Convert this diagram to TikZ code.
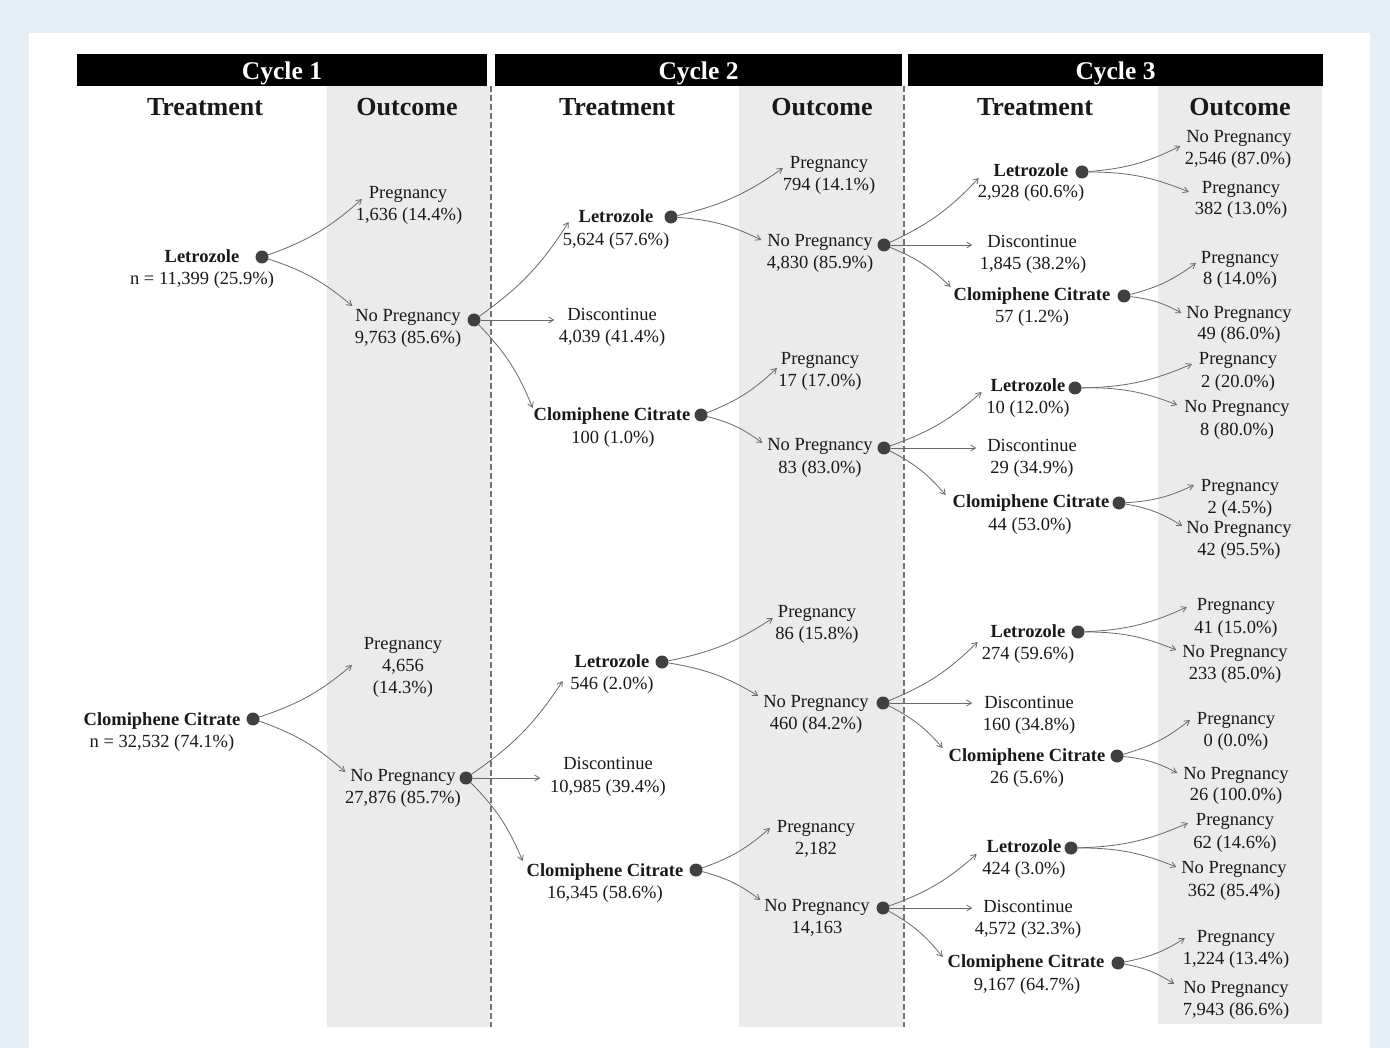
\documentclass[tikz,border=0pt]{standalone}
\usepackage{fontspec}
\setmainfont{Liberation Serif}
\usetikzlibrary{arrows.meta,calc}
\definecolor{bgblue}{RGB}{230,238,248}
\definecolor{colgrey}{RGB}{235,235,235}
\definecolor{arrc}{RGB}{105,105,105}
\definecolor{dotc}{RGB}{64,64,64}
\definecolor{dashc}{RGB}{115,115,115}
\definecolor{txtc}{RGB}{25,25,25}
\newcommand\mytfont{\fontsize{18.5}{22}\selectfont}
\newcommand\myhfont{\fontsize{26}{30}\selectfont\bfseries}
\newcommand\mybfont{\fontsize{25.5}{30}\selectfont\bfseries}
\begin{document}
\begin{tikzpicture}[x=1pt,y=-1pt,
  txt/.style={font=\mytfont, text=txtc, inner xsep=2pt, inner ysep=0pt, text height=13pt, text depth=4pt, anchor=base, outer sep=0pt},
  btxt/.style={txt, font=\mytfont\bfseries},
  head/.style={font=\myhfont, text=txtc, inner sep=0pt, anchor=base},
  bar/.style={fill=black, text=white, font=\mybfont, minimum height=32pt, inner sep=0pt, text height=20pt, text depth=0pt},
  dotn/.style={circle, fill=dotc, inner sep=0pt, minimum size=13pt, outer sep=0pt},
  arr/.style={draw=arrc, line width=0.8pt, -{Straight Barb[length=5pt,width=6pt]}},
  upc/.style={bend right=11},
  dnc/.style={bend left=11},
  sep/.style={draw=dashc, line width=1.2pt, dash pattern=on 6pt off 3pt}
]
\useasboundingbox (0,0) rectangle (1390,1048);
\fill[bgblue] (0,0) rectangle (1390,1048);
\fill[white] (29,33) rectangle (1370,1048);
\fill[colgrey] (327,86) rectangle (490,1027);
\fill[colgrey] (739,86) rectangle (903,1027);
\fill[colgrey] (1158,86) rectangle (1322,1024);
\draw[sep] (491,86) -- (491,1027);
\draw[sep] (904,86) -- (904,1027);

% cycle bars
\node[bar, minimum width=410pt] (cyc1) at (282,70) {Cycle 1};
\node[bar, minimum width=407pt] (cyc2) at (698.5,70) {Cycle 2};
\node[bar, minimum width=415pt] (cyc3) at (1115.5,70) {Cycle 3};
% headers
\node[head] (h1t) at (205,116) {Treatment};
\node[head] (h1o) at (407,116) {Outcome};
\node[head] (h2t) at (617,116) {Treatment};
\node[head] (h2o) at (822,116) {Outcome};
\node[head] (h3t) at (1035,116) {Treatment};
\node[head] (h3o) at (1240,116) {Outcome};

% ---------------- Cycle 1 ----------------
\node[btxt] (c1l) at (202,263) {Letrozole};
\node[txt] (c1l2) at (202,285) {n = 11,399 (25.9\%)};
\node[dotn] (c1ld) at (262,257) {};
\node[txt] (c1lp) at (408,199) {Pregnancy};
\node[txt] (c1lp2) at (409,221) {1,636 (14.4\%)};
\node[txt] (c1lnp) at (408,322) {No Pregnancy};
\node[txt] (c1lnp2) at (408,344) {9,763 (85.6\%)};
\node[dotn] (c1lnpd) at (474,320) {};

\node[btxt] (c1c) at (162,725) {Clomiphene Citrate};
\node[txt] (c1c2) at (162,747) {n = 32,532 (74.1\%)};
\node[dotn] (c1cd) at (253,719) {};
\node[txt] (c1cp) at (403,649) {Pregnancy};
\node[txt] (c1cp2) at (403,671) {4,656};
\node[txt] (c1cp3) at (403,693) {(14.3\%)};
\node[txt] (c1cnp) at (403,781) {No Pregnancy};
\node[txt] (c1cnp2) at (403,803) {27,876 (85.7\%)};
\node[dotn] (c1cnpd) at (466,778) {};

% ---------------- Cycle 2 upper ----------------
\node[btxt] (c2l) at (616,223) {Letrozole};
\node[txt] (c2l2) at (616,246) {5,624 (57.6\%)};
\node[dotn] (c2ld) at (671,217) {};
\node[txt] (c2d) at (612,321) {Discontinue};
\node[txt] (c2d2) at (612,343) {4,039 (41.4\%)};
\node[btxt] (c2c) at (612,421) {Clomiphene Citrate};
\node[txt] (c2c2) at (613,443) {100 (1.0\%)};
\node[dotn] (c2cd) at (701,415) {};
\node[txt] (c2lp) at (829,169) {Pregnancy};
\node[txt] (c2lp2) at (829,191) {794 (14.1\%)};
\node[txt] (c2lnp) at (820,247) {No Pregnancy};
\node[txt] (c2lnp2) at (820,269) {4,830 (85.9\%)};
\node[dotn] (c2lnpd) at (884,245) {};
\node[txt] (c2cp) at (820,365) {Pregnancy};
\node[txt] (c2cp2) at (820,387) {17 (17.0\%)};
\node[txt] (c2cnp) at (820,451) {No Pregnancy};
\node[txt] (c2cnp2) at (820,473) {83 (83.0\%)};
\node[dotn] (c2cnpd) at (884,448) {};

% ---------------- Cycle 2 lower ----------------
\node[btxt] (c2Ll) at (612,667) {Letrozole};
\node[txt] (c2Ll2) at (612,689) {546 (2.0\%)};
\node[dotn] (c2Lld) at (662,662) {};
\node[txt] (c2Ld) at (608,769) {Discontinue};
\node[txt] (c2Ld2) at (608,792) {10,985 (39.4\%)};
\node[btxt] (c2Lc) at (605,876) {Clomiphene Citrate};
\node[txt] (c2Lc2) at (605,898) {16,345 (58.6\%)};
\node[dotn] (c2Lcd) at (696,870) {};
\node[txt] (c2Llp) at (817,617) {Pregnancy};
\node[txt] (c2Llp2) at (817,639) {86 (15.8\%)};
\node[txt] (c2Llnp) at (816,707) {No Pregnancy};
\node[txt] (c2Llnp2) at (816,729) {460 (84.2\%)};
\node[dotn] (c2Llnpd) at (883,703) {};
\node[txt] (c2Lcp) at (816,832) {Pregnancy};
\node[txt] (c2Lcp2) at (816,854) {2,182};
\node[txt] (c2Lcnp) at (817,911) {No Pregnancy};
\node[txt] (c2Lcnp2) at (817,933) {14,163};
\node[dotn] (c2Lcnpd) at (883,908) {};

% ---------------- Cycle 3 group A ----------------
\node[btxt] (c3al) at (1031,177) {Letrozole};
\node[txt] (c3al2) at (1031,198) {2,928 (60.6\%)};
\node[dotn] (c3ald) at (1082,172) {};
\node[txt] (c3ad) at (1032,248) {Discontinue};
\node[txt] (c3ad2) at (1033,270) {1,845 (38.2\%)};
\node[btxt] (c3ac) at (1032,301) {Clomiphene Citrate};
\node[txt] (c3ac2) at (1032,323) {57 (1.2\%)};
\node[dotn] (c3acd) at (1124,296) {};
\node[txt] (c3alnp) at (1239,143) {No Pregnancy};
\node[txt] (c3alnp2) at (1238,165) {2,546 (87.0\%)};
\node[txt] (c3alp) at (1241,194) {Pregnancy};
\node[txt] (c3alp2) at (1241,215) {382 (13.0\%)};
\node[txt] (c3acp) at (1240,264) {Pregnancy};
\node[txt] (c3acp2) at (1240,285) {8 (14.0\%)};
\node[txt] (c3acnp) at (1239,319) {No Pregnancy};
\node[txt] (c3acnp2) at (1239,340) {49 (86.0\%)};

% ---------------- Cycle 3 group B ----------------
\node[btxt] (c3bl) at (1028,392) {Letrozole};
\node[txt] (c3bl2) at (1028,414) {10 (12.0\%)};
\node[dotn] (c3bld) at (1075,388) {};
\node[txt] (c3bd) at (1032,452) {Discontinue};
\node[txt] (c3bd2) at (1032,474) {29 (34.9\%)};
\node[btxt] (c3bc) at (1031,507) {Clomiphene Citrate};
\node[txt] (c3bc2) at (1030,530) {44 (53.0\%)};
\node[dotn] (c3bcd) at (1119,503) {};
\node[txt] (c3blp) at (1238,365) {Pregnancy};
\node[txt] (c3blp2) at (1238,388) {2 (20.0\%)};
\node[txt] (c3blnp) at (1237,413) {No Pregnancy};
\node[txt] (c3blnp2) at (1237,436) {8 (80.0\%)};
\node[txt] (c3bcp) at (1240,491) {Pregnancy};
\node[txt] (c3bcp2) at (1240,513) {2 (4.5\%)};
\node[txt] (c3bcnp) at (1239,533) {No Pregnancy};
\node[txt] (c3bcnp2) at (1239,555) {42 (95.5\%)};

% ---------------- Cycle 3 group C ----------------
\node[btxt] (c3cl) at (1028,637) {Letrozole};
\node[txt] (c3cl2) at (1028,659) {274 (59.6\%)};
\node[dotn] (c3cld) at (1078,632) {};
\node[txt] (c3cd) at (1029,708) {Discontinue};
\node[txt] (c3cd2) at (1029,730) {160 (34.8\%)};
\node[btxt] (c3cc) at (1027,761) {Clomiphene Citrate};
\node[txt] (c3cc2) at (1027,783) {26 (5.6\%)};
\node[dotn] (c3ccd) at (1117,756) {};
\node[txt] (c3clp) at (1236,610) {Pregnancy};
\node[txt] (c3clp2) at (1236,633) {41 (15.0\%)};
\node[txt] (c3clnp) at (1235,657) {No Pregnancy};
\node[txt] (c3clnp2) at (1235,679) {233 (85.0\%)};
\node[txt] (c3ccp) at (1236,724) {Pregnancy};
\node[txt] (c3ccp2) at (1236,746) {0 (0.0\%)};
\node[txt] (c3ccnp) at (1236,779) {No Pregnancy};
\node[txt] (c3ccnp2) at (1236,800) {26 (100.0\%)};

% ---------------- Cycle 3 group D ----------------
\node[btxt] (c3dl) at (1024,852) {Letrozole};
\node[txt] (c3dl2) at (1024,874) {424 (3.0\%)};
\node[dotn] (c3dld) at (1071,848) {};
\node[txt] (c3dd) at (1028,912) {Discontinue};
\node[txt] (c3dd2) at (1028,934) {4,572 (32.3\%)};
\node[btxt] (c3dc) at (1026,967) {Clomiphene Citrate};
\node[txt] (c3dc2) at (1027,990) {9,167 (64.7\%)};
\node[dotn] (c3dcd) at (1118,963) {};
\node[txt] (c3dlp) at (1235,825) {Pregnancy};
\node[txt] (c3dlp2) at (1235,848) {62 (14.6\%)};
\node[txt] (c3dlnp) at (1234,873) {No Pregnancy};
\node[txt] (c3dlnp2) at (1234,896) {362 (85.4\%)};
\node[txt] (c3dcp) at (1236,942) {Pregnancy};
\node[txt] (c3dcp2) at (1236,964) {1,224 (13.4\%)};
\node[txt] (c3dcnp) at (1236,993) {No Pregnancy};
\node[txt] (c3dcnp2) at (1236,1015) {7,943 (86.6\%)};

% ---------------- connectors ----------------
\draw[arr] (c1ld) to[upc] ([shift={(-5,4.5)}]c1lp.west);
\draw[arr] (c1ld) to[dnc] ([shift={(-1,-11.5)}]c1lnp.west);
\draw[arr] (c1cd) to[upc] ([shift={(-10,20.5)}]c1cp.west);
\draw[arr] (c1cd) to[dnc] ([shift={(-3,-4.5)}]c1cnp.west);

\draw[arr] (c1lnpd) to[upc] ([shift={(-8,3.5)}]c2l.west);
\draw[arr] (c1lnpd) -- ($(c1lnpd -| c2d.west)+(-11,0)$);
\draw[arr] (c1lnpd) to[dnc] ([shift={(1,-8.5)}]c2c.west);
\draw[arr] (c2ld) to[upc] ([shift={(-5,3.5)}]c2lp.west);
\draw[arr] (c2ld) to[dnc] ([shift={(-4,-2.5)}]c2lnp.west);
\draw[arr] (c2cd) to[upc] ([shift={(-2,7.5)}]c2cp.west);
\draw[arr] (c2cd) to[dnc] ([shift={(-3,-3.5)}]c2cnp.west);

\draw[arr] (c1cnpd) to[upc] ([shift={(-10,18.5)}]c2Ll.west);
\draw[arr] (c1cnpd) -- ($(c1cnpd -| c2Ld.west)+(-21,0)$);
\draw[arr] (c1cnpd) to[dnc] ([shift={(-2,-10.5)}]c2Lc.west);
\draw[arr] (c2Lld) to[upc] ([shift={(-3,5.5)}]c2Llp.west);
\draw[arr] (c2Lld) to[dnc] ([shift={(-3,-6.5)}]c2Llnp.west);
\draw[arr] (c2Lcd) to[upc] ([shift={(-5,0.5)}]c2Lcp.west);
\draw[arr] (c2Lcd) to[dnc] ([shift={(-2,-6.5)}]c2Lcnp.west);

\draw[arr] (c2lnpd) to[upc] ([shift={(-13,5.5)}]c3al.west);
\draw[arr] (c2lnpd) -- ($(c2lnpd -| c3ad.west)+(-13,0)$);
\draw[arr] (c2lnpd) to[dnc] ([shift={(-1,-9.5)}]c3ac.west);
\draw[arr] (c3ald) to[upc] ([shift={(-4,7.5)}]c3alnp.west);
\draw[arr] (c3ald) to[dnc] ([shift={(-11,2.5)}]c3alp.west);
\draw[arr] (c3acd) to[upc] ([shift={(-3,3.5)}]c3acp.west);
\draw[arr] (c3acd) to[dnc] ([shift={(-3,-1.5)}]c3acnp.west);

\draw[arr] (c2cnpd) to[upc] ([shift={(-7,4.5)}]c3bl.west);
\draw[arr] (c2cnpd) -- ($(c2cnpd -| c3bd.west)+(-9,0)$);
\draw[arr] (c2cnpd) to[dnc] ([shift={(-5,-7.5)}]c3bc.west);
\draw[arr] (c3bld) to[upc] ([shift={(-5,3.5)}]c3blp.west);
\draw[arr] (c3bld) to[dnc] ([shift={(-5,-3.5)}]c3blnp.west);
\draw[arr] (c3bcd) to[upc] ([shift={(-5,-1.5)}]c3bcp.west);
\draw[arr] (c3bcd) to[dnc] ([shift={(-2,-2.5)}]c3bcnp.west);

\draw[arr] (c2Llnpd) to[upc] ([shift={(-11,9.5)}]c3cl.west);
\draw[arr] (c2Llnpd) -- ($(c2Llnpd -| c3cd.west)+(-10,0)$);
\draw[arr] (c2Llnpd) to[dnc] ([shift={(-4,-8.5)}]c3cc.west);
\draw[arr] (c3cld) to[upc] ([shift={(-8,1.5)}]c3clp.west);
\draw[arr] (c3cld) to[dnc] ([shift={(-4,-2.5)}]c3clnp.west);
\draw[arr] (c3ccd) to[upc] ([shift={(-5,0.5)}]c3ccp.west);
\draw[arr] (c3ccd) to[dnc] ([shift={(-4,-1.5)}]c3ccnp.west);

\draw[arr] (c2Lcnpd) to[upc] ([shift={(-8,6.5)}]c3dl.west);
\draw[arr] (c2Lcnpd) -- ($(c2Lcnpd -| c3dd.west)+(-9,0)$);
\draw[arr] (c2Lcnpd) to[dnc] ([shift={(-3,-5.5)}]c3dc.west);
\draw[arr] (c3dld) to[upc] ([shift={(-6,2.5)}]c3dlp.west);
\draw[arr] (c3dld) to[dnc] ([shift={(-3,-1.5)}]c3dlnp.west);
\draw[arr] (c3dcd) to[upc] ([shift={(-10,0.5)}]c3dcp.west);
\draw[arr] (c3dcd) to[dnc] ([shift={(-7,-4.5)}]c3dcnp.west);
\end{tikzpicture}
\end{document}
